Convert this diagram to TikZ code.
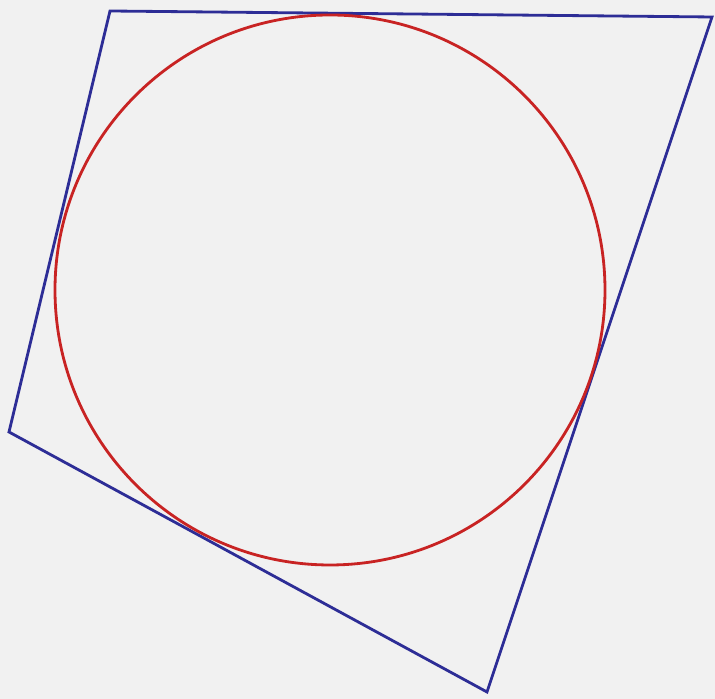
\documentclass[tikz,border=0pt]{standalone}
\definecolor{quadblue}{RGB}{45,45,150}
\definecolor{circred}{RGB}{200,35,35}
\definecolor{paper}{RGB}{241,241,241}
\begin{document}
\begin{tikzpicture}[quad/.style = {draw=quadblue, line width=0.8pt, line join=miter},
                    incircle/.style = {draw=circred, line width=0.8pt}]
            {
                \fill[paper] (0, 0) rectangle (7.15, 6.99);
                \useasboundingbox (0, 0) rectangle (7.15, 6.99);

                \coordinate (a) at (1.10, 6.88);
                \coordinate (b) at (7.12, 6.82);
                \coordinate (c) at (4.87, 0.07);
                \coordinate (d) at (0.09, 2.67);
                \coordinate (o) at (3.30, 4.09);
            }

            \draw[quad] (a) -- (b) -- (c) -- (d) -- cycle;
            \draw[incircle] (o) circle (2.75);

        \end{tikzpicture}
\end{document}
